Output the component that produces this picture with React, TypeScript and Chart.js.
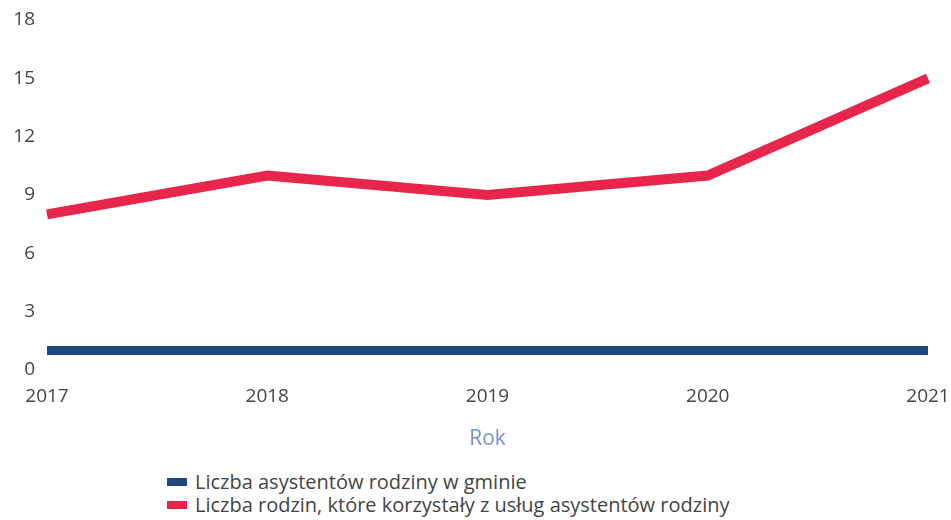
import React, { useEffect, useRef } from "react";
import { Chart, registerables } from "chart.js";

Chart.register(...registerables);

const years = ["2017", "2018", "2019", "2020", "2021"];
const assistants = [1, 1, 1, 1, 1];
const families = [8, 10, 9, 10, 15];
const seriesNames = [
  "Liczba asystentów rodziny w gminie",
  "Liczba rodzin, które korzystały z usług asystentów rodziny",
];
const axisTitle = "Rok";

const BLUE = "#1E4780";
const RED = "#E8254B";
const FONT = "'Open Sans', 'Noto Sans', sans-serif";

export default function App() {
  const ref = useRef<HTMLCanvasElement | null>(null);

  useEffect(() => {
    if (!ref.current) return;
    const chart = new Chart(ref.current, {
      type: "line",
      data: {
        labels: years,
        datasets: [
          {
            label: seriesNames[0],
            data: assistants,
            borderColor: BLUE,
            backgroundColor: BLUE,
            borderWidth: 9,
            pointRadius: 0,
            tension: 0,
            borderCapStyle: "butt",
          },
          {
            label: seriesNames[1],
            data: families,
            borderColor: RED,
            backgroundColor: RED,
            borderWidth: 10,
            pointRadius: 0,
            tension: 0,
            borderCapStyle: "butt",
            borderJoinStyle: "miter",
          },
        ],
      },
      options: {
        animation: false,
        responsive: false,
        maintainAspectRatio: false,
        layout: { padding: { top: 20, right: 23, left: 0, bottom: 0 } },
        plugins: {
          legend: { display: false },
          tooltip: { enabled: false },
        },
        scales: {
          x: {
            offset: false,
            grid: { display: false, drawTicks: false },
            border: { display: false },
            ticks: {
              color: "#444444",
              font: { family: FONT, size: 19 },
              padding: 15,
              maxRotation: 0,
              autoSkip: false,
            },
            title: {
              display: true,
              text: axisTitle,
              color: "#7B8EC4",
              font: { family: FONT, size: 21 },
              padding: { top: 0, bottom: 8 },
            },
            afterFit: (s: any) => {
              s.height = 90;
              s.paddingLeft = 0;
              s.paddingRight = 0;
            },
          },
          y: {
            min: 0,
            max: 18,
            grid: { display: false, drawTicks: false },
            border: { display: false },
            ticks: {
              stepSize: 3,
              color: "#444444",
              font: { family: FONT, size: 19 },
              padding: 12,
            },
            afterFit: (s: any) => {
              s.width = 47;
              s.paddingTop = 0;
              s.paddingBottom = 0;
            },
          },
        },
      },
    });
    return () => chart.destroy();
  }, []);

  const legendColors = [BLUE, RED];

  return (
    <div
      style={{
        position: "fixed",
        left: 0,
        top: 0,
        width: 951,
        height: 520,
        background: "#ffffff",
      }}
    >
      <canvas ref={ref} width={951} height={460} style={{ display: "block" }} />
      <div
        style={{
          position: "absolute",
          left: 167,
          top: 470,
          fontFamily: FONT,
          fontSize: 20,
          color: "#444444",
          lineHeight: "23px",
        }}
      >
        {seriesNames.map((n, i) => (
          <div key={n} style={{ display: "flex", alignItems: "center" }}>
            <span
              style={{
                display: "inline-block",
                width: 20,
                height: 8,
                background: legendColors[i],
                marginRight: 8,
              }}
            />
            <span>{n}</span>
          </div>
        ))}
      </div>
    </div>
  );
}
